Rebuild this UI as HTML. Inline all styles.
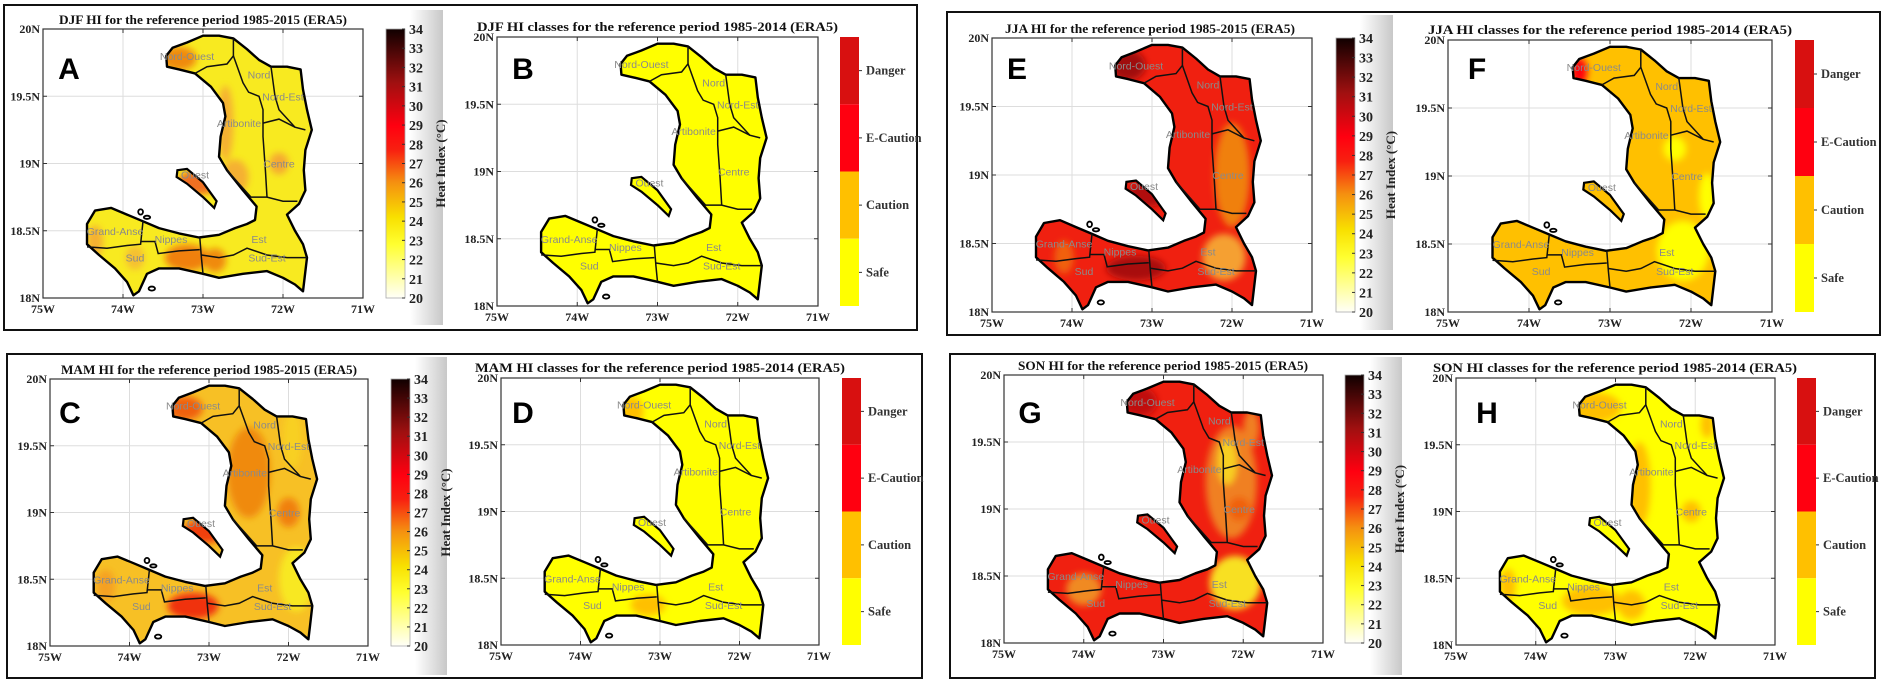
<!DOCTYPE html>
<html><head><meta charset="utf-8"><style>
html,body{margin:0;padding:0;background:#fff;}
svg{display:block;font-family:"Liberation Serif",serif;}
</style></head><body>
<svg id="fig" width="1890" height="687" viewBox="0 0 1890 687" xmlns="http://www.w3.org/2000/svg">
<defs>
<linearGradient id="heatGrad" x1="0" y1="1" x2="0" y2="0">
<stop offset="0" stop-color="#fffff8"/><stop offset="0.2" stop-color="#ffff30"/><stop offset="0.3" stop-color="#f8e000"/>
<stop offset="0.43" stop-color="#f59010"/><stop offset="0.55" stop-color="#f82010"/><stop offset="0.64" stop-color="#ff0010"/>
<stop offset="0.8" stop-color="#a01010"/><stop offset="1" stop-color="#100000"/></linearGradient>
<linearGradient id="shade" x1="0" y1="0" x2="1" y2="0"><stop offset="0" stop-color="#fff"/><stop offset="1" stop-color="#c8c8c8"/></linearGradient>
<filter id="soft" x="-30%" y="-30%" width="160%" height="160%"><feGaussianBlur stdDeviation="3.5"/></filter>
</defs>
</svg>
<script>
const lonTicks = [-75,-74,-73,-72,-71];
const lonLabels = ["75W","74W","73W","72W","71W"];
const latTicks = [20,19.5,19,18.5,18];
const latLabels = ["20N","19.5N","19N","18.5N","18N"];
const cbTicks = [20,21,22,23,24,25,26,27,28,29,30,31,32,33,34];
const classNames = ["Danger","E-Caution","Caution","Safe"];
const classColors = ["#d81010","#ff0010","#ffc000","#ffff00"];
const outline = [[-73.46,19.80],[-73.38,19.86],[-73.2,19.90],[-73.0,19.95],[-72.8,19.95],[-72.62,19.93],[-72.45,19.85],[-72.3,19.77],[-72.15,19.72],[-71.95,19.72],[-71.78,19.70],[-71.75,19.55],[-71.70,19.40],[-71.64,19.25],[-71.72,19.10],[-71.74,18.95],[-71.72,18.80],[-71.80,18.70],[-71.95,18.62],[-71.85,18.50],[-71.75,18.40],[-71.70,18.30],[-71.73,18.15],[-71.75,18.05],[-71.85,18.10],[-72.0,18.15],[-72.2,18.20],[-72.5,18.18],[-72.8,18.15],[-73.0,18.18],[-73.3,18.22],[-73.55,18.22],[-73.7,18.18],[-73.8,18.05],[-73.87,18.02],[-73.95,18.12],[-74.1,18.22],[-74.3,18.32],[-74.45,18.40],[-74.45,18.55],[-74.35,18.65],[-74.15,18.67],[-73.95,18.62],[-73.75,18.57],[-73.55,18.52],[-73.3,18.48],[-73.05,18.45],[-72.8,18.47],[-72.6,18.52],[-72.45,18.55],[-72.35,18.58],[-72.33,18.68],[-72.5,18.80],[-72.7,18.95],[-72.8,19.05],[-72.78,19.2],[-72.72,19.35],[-72.75,19.45],[-72.9,19.57],[-73.1,19.67],[-73.3,19.70],[-73.45,19.72]];
const gonave = [[-73.32,18.95],[-73.2,18.96],[-73.0,18.86],[-72.83,18.72],[-72.86,18.67],[-73.0,18.75],[-73.2,18.85],[-73.33,18.90]];
const islets = [[-73.78,18.64,0.03,0.02],[-73.7,18.60,0.04,0.012],[-73.64,18.07,0.04,0.015]];
const borders = [
 [[-73.1,19.67],[-72.95,19.72],[-72.7,19.74],[-72.62,19.8],[-72.62,19.93]],
 [[-72.62,19.8],[-72.5,19.6],[-72.43,19.53],[-72.3,19.5],[-72.25,19.4],[-72.25,19.2],[-72.22,18.95],[-72.2,18.75]],
 [[-72.15,19.72],[-72.1,19.5],[-72.05,19.4],[-71.85,19.27],[-71.72,19.25]],
 [[-72.25,19.3],[-72.05,19.33],[-71.85,19.27]],
 [[-72.7,18.95],[-72.55,18.85],[-72.4,18.75],[-72.2,18.75],[-72.0,18.72],[-71.82,18.72]],
 [[-73.04,18.45],[-73.02,18.3],[-73.0,18.18]],
 [[-73.02,18.32],[-72.8,18.3],[-72.62,18.32],[-72.45,18.37],[-72.2,18.32],[-71.95,18.3],[-71.7,18.3]],
 [[-74.45,18.38],[-74.2,18.37],[-73.95,18.39],[-73.78,18.40],[-73.75,18.57]],
 [[-73.78,18.42],[-73.6,18.42],[-73.56,18.33],[-73.3,18.35],[-73.04,18.36]]
];
const deptNames = ["Nord-Ouest","Nord","Nord-Est","Artibonite","Centre","Ouest","Grand-Anse","Nippes","Sud","Est","Sud-Est"];
const deptLon = [-73.2,-72.3,-72.0,-72.55,-72.05,-73.1,-74.1,-73.4,-73.85,-72.3,-72.2];
const deptLat = [19.8,19.66,19.5,19.3,19.0,18.92,18.5,18.44,18.3,18.44,18.3];
// blobs: [lon, lat, rxDeg, ryDeg, color]
const blobsA = [[-73.3,19.78,0.22,0.09,"#f08a10"],[-72.72,19.3,0.1,0.28,"#f5b030"],[-72.6,18.9,0.17,0.13,"#f5b030"],[-72.05,19.0,0.12,0.08,"#f5a830"],[-73.05,18.86,0.27,0.09,"#f07020"],[-73.2,18.3,0.28,0.1,"#f08010"],[-72.85,18.28,0.14,0.09,"#f08a10"],[-74.35,18.42,0.1,0.12,"#f5b030"],[-73.85,18.3,0.12,0.09,"#f5c030"]];
const blobsB = [];
const blobsC = [[-72.5,19.3,0.27,0.34,"#f08a10"],[-73.3,19.78,0.22,0.09,"#f06010"],[-73.2,18.3,0.32,0.1,"#f03010"],[-72.0,19.0,0.14,0.11,"#f08010"],[-71.9,18.5,0.22,0.24,"#f8e820"],[-71.95,19.55,0.12,0.22,"#f8d020"],[-73.05,18.86,0.27,0.09,"#f04010"],[-74.3,18.45,0.12,0.12,"#f5a020"]];
const blobsD = [[-73.35,19.75,0.14,0.11,"#ffc000"],[-73.15,18.3,0.22,0.08,"#ffc000"]];
const blobsE = [[-72.0,19.0,0.22,0.38,"#f08010"],[-72.1,18.4,0.27,0.17,"#f5a030"],[-73.3,19.8,0.22,0.11,"#a01010"],[-73.2,18.32,0.37,0.09,"#a81010"],[-73.05,18.86,0.27,0.09,"#b01010"],[-74.1,18.4,0.12,0.12,"#f06010"]];
const blobsF = [[-73.38,19.77,0.1,0.1,"#ff0010"],[-72.1,18.45,0.32,0.22,"#ffff00"],[-72.2,19.2,0.14,0.09,"#ffff00"],[-71.8,18.85,0.1,0.17,"#ffff00"]];
const blobsG = [[-72.15,19.2,0.32,0.42,"#f08020"],[-72.2,19.35,0.12,0.17,"#f8d020"],[-72.1,18.45,0.32,0.2,"#f8e020"],[-72.05,19.0,0.14,0.09,"#f06010"],[-74.0,18.4,0.22,0.12,"#f08a20"],[-71.9,19.6,0.1,0.14,"#f08020"],[-73.3,19.8,0.22,0.11,"#c01010"]];
const blobsH = [[-73.25,19.78,0.32,0.11,"#ffc000"],[-72.7,19.2,0.14,0.32,"#ffc000"],[-72.05,19.0,0.12,0.08,"#ffc000"],[-73.3,18.33,0.37,0.11,"#ffc000"],[-72.8,18.3,0.17,0.11,"#ffc000"],[-74.35,18.45,0.1,0.12,"#ffc000"],[-71.85,19.65,0.08,0.1,"#ffc000"]];

const NS="http://www.w3.org/2000/svg";
const svg=document.getElementById('fig');
function mk(tag,attrs,parent){const e=document.createElementNS(NS,tag);for(const k in attrs)e.setAttribute(k,attrs[k]);(parent||svg).appendChild(e);return e;}

const boxes=[[4,5,913,325,"box-djf"],[947,12,933,323,"box-jja"],[7,354,915,324,"box-mam"],[950,354,925,324,"box-son"]];
const shades=[[410,10,33,315],[1360,15,33,315],[415,357,32,318],[1370,357,32,318]];
shades.forEach(s=>{const r=mk('rect',{x:s[0],y:s[1],width:s[2],height:s[3],fill:'url(#shade)'});

});
boxes.forEach(b=>{const r=mk('rect',{x:b[0],y:b[1],width:b[2],height:b[3],fill:'none',stroke:'#111','stroke-width':2});

});

const panels=[
 {L:'A',t:'DJF HI for the reference period 1985-2015 (ERA5)',type:'c',x0:43,y0:29,x1:363,y1:298,cb:386,tx:59,tw:288,ty:24,lx:69,ly:68,base:'#f8ea20',blobs:blobsA},
 {L:'B',t:'DJF HI classes for the reference period 1985-2014 (ERA5)',type:'k',x0:497,y0:37,x1:818,y1:306,cb:840,tx:477,tw:361,ty:31,lx:523,ly:68,base:'#ffff00',blobs:blobsB},
 {L:'E',t:'JJA HI for the reference period 1985-2015 (ERA5)',type:'c',x0:992,y0:38,x1:1312,y1:312,cb:1336,tx:1005,tw:290,ty:33,lx:1017,ly:68,base:'#f02010',blobs:blobsE},
 {L:'F',t:'JJA HI classes for the reference period 1985-2014 (ERA5)',type:'k',x0:1448,y0:40,x1:1772,y1:312,cb:1795,tx:1428,tw:364,ty:34,lx:1477,ly:68,base:'#ffc000',blobs:blobsF},
 {L:'C',t:'MAM HI for the reference period 1985-2015 (ERA5)',type:'c',x0:50,y0:379,x1:368,y1:646,cb:391,tx:61,tw:296,ty:374,lx:70,ly:412,base:'#f7c025',blobs:blobsC},
 {L:'D',t:'MAM HI classes for the reference period 1985-2014 (ERA5)',type:'k',x0:501,y0:378,x1:819,y1:645,cb:842,tx:475,tw:370,ty:372,lx:523,ly:412,base:'#ffff00',blobs:blobsD},
 {L:'G',t:'SON HI for the reference period 1985-2015 (ERA5)',type:'c',x0:1004,y0:375,x1:1323,y1:643,cb:1345,tx:1018,tw:290,ty:370,lx:1030,ly:412,base:'#f02010',blobs:blobsG},
 {L:'H',t:'SON HI classes for the reference period 1985-2014 (ERA5)',type:'k',x0:1456,y0:378,x1:1775,y1:645,cb:1797,tx:1433,tw:364,ty:372,lx:1487,ly:412,base:'#ffff00',blobs:blobsH}
];

panels.forEach((p,pi)=>{
 const g=mk('g',{});
 
 
 const W=p.x1-p.x0,H=p.y1-p.y0;
 const X=lon=>p.x0+(lon+75)/4*W, Y=lat=>p.y0+(20-lat)/2*H;
 const pts=a=>a.map(q=>X(q[0]).toFixed(1)+','+Y(q[1]).toFixed(1)).join(' ');
 mk('rect',{x:p.x0,y:p.y0,width:W,height:H,fill:'#fff'},g);
 lonTicks.forEach((v,i)=>{ if(i>0&&i<4) mk('line',{x1:X(v),x2:X(v),y1:p.y0,y2:p.y1,stroke:'#ddd','stroke-width':1},g);
   mk('line',{x1:X(v),x2:X(v),y1:p.y1,y2:p.y1-4,stroke:'#333'},g); mk('line',{x1:X(v),x2:X(v),y1:p.y0,y2:p.y0+4,stroke:'#333'},g);
   const t=mk('text',{x:X(v),y:p.y1+15,'text-anchor':'middle','font-size':12,'font-weight':'bold',fill:'#222'},g);t.textContent=lonLabels[i];
   
   });
 latTicks.forEach((v,i)=>{ if(i>0&&i<4) mk('line',{x1:p.x0,x2:p.x1,y1:Y(v),y2:Y(v),stroke:'#ddd','stroke-width':1},g);
   mk('line',{x1:p.x0,x2:p.x0+4,y1:Y(v),y2:Y(v),stroke:'#333'},g); mk('line',{x1:p.x1,x2:p.x1-4,y1:Y(v),y2:Y(v),stroke:'#333'},g);
   const t=mk('text',{x:p.x0-3,y:Y(v)+4,'text-anchor':'end','font-size':12,'font-weight':'bold',fill:'#222'},g);t.textContent=latLabels[i];
   
   });
 const cid='clip'+pi;
 const cp=mk('clipPath',{id:cid},g);
 mk('polygon',{points:pts(outline)},cp); mk('polygon',{points:pts(gonave)},cp);
 const mg=mk('g',{'clip-path':'url(#'+cid+')'},g);
 
 
 mk('rect',{x:p.x0,y:p.y0,width:W,height:H,fill:p.base},mg);
 const bg=mk('g',{filter:'url(#soft)'},mg);
 p.blobs.forEach(b=>{const e=mk('ellipse',{cx:X(b[0]),cy:Y(b[1]),rx:b[2]/4*W,ry:b[3]/2*H,fill:b[4]},bg);
   
   });
 const ol=mk('polygon',{points:pts(outline),fill:'none',stroke:'#000','stroke-width':2.4,'stroke-linejoin':'round'},g);
 
 
 mk('polygon',{points:pts(gonave),fill:'none',stroke:'#000','stroke-width':2.2},g);
 islets.forEach(s=>mk('ellipse',{cx:X(s[0]),cy:Y(s[1]),rx:s[2]/4*W,ry:s[3]/2*H,fill:'none',stroke:'#000','stroke-width':1.8},g));
 borders.forEach(b=>{const l=mk('polyline',{points:pts(b),fill:'none',stroke:'#111','stroke-width':1.5},g);
   
   });
 deptNames.forEach((n,i)=>{const t=mk('text',{x:X(deptLon[i]),y:Y(deptLat[i])+4,'text-anchor':'middle','font-family':'Liberation Sans, sans-serif','font-size':10.5,fill:'#8a8a8a'},g);t.textContent=n;
   
   });
 mk('rect',{x:p.x0,y:p.y0,width:W,height:H,fill:'none',stroke:'#333','stroke-width':1.2},g);
 const tt=mk('text',{x:p.tx,y:p.ty,'font-size':12.5,'font-weight':'bold',fill:'#111',textLength:p.tw,lengthAdjust:'spacingAndGlyphs'},g);tt.textContent=p.t;
 
 
 const lt=mk('text',{x:p.lx,y:p.ly+11,'text-anchor':'middle','font-family':'Liberation Sans, sans-serif','font-size':30,'font-weight':'bold',fill:'#000'},g);lt.textContent=p.L;
 
 
 const cw=19;
 if(p.type==='c'){
   const cb=mk('rect',{x:p.cb,y:p.y0,width:cw,height:H,fill:'url(#heatGrad)',stroke:'#aaa','stroke-width':0.8},g);
   
   
   cbTicks.forEach(v=>{const y=p.y1-(v-20)/14*H;
     mk('line',{x1:p.cb+cw-3,x2:p.cb+cw,y1:y,y2:y,stroke:'#333'},g);
     const t=mk('text',{x:p.cb+cw+4,y:y+5,'font-size':14,'font-weight':'bold',fill:'#222'},g);t.textContent=v;
     
     });
   const cx=p.cb+cw+40,cy=(p.y0+p.y1)/2;
   const ct=mk('text',{x:cx,y:cy,'text-anchor':'middle','font-size':13,'font-weight':'bold',fill:'#222',transform:'rotate(-90 '+cx+' '+cy+')'},g);ct.textContent='Heat Index (°C)';
   
   
 } else {
   const sh=H/4;
   classNames.forEach((n,i)=>{const r=mk('rect',{x:p.cb,y:p.y0+i*sh,width:cw,height:sh,fill:classColors[i]},g);
     
     
     mk('line',{x1:p.cb+cw,x2:p.cb+cw+3,y1:p.y0+(i+0.5)*sh,y2:p.y0+(i+0.5)*sh,stroke:'#333'},g);
     const t=mk('text',{x:p.cb+cw+7,y:p.y0+(i+0.5)*sh+4,'font-size':12.5,'font-weight':'bold',fill:'#333'},g);t.textContent=n;
     
     });
 }
});
</script>
</body></html>
